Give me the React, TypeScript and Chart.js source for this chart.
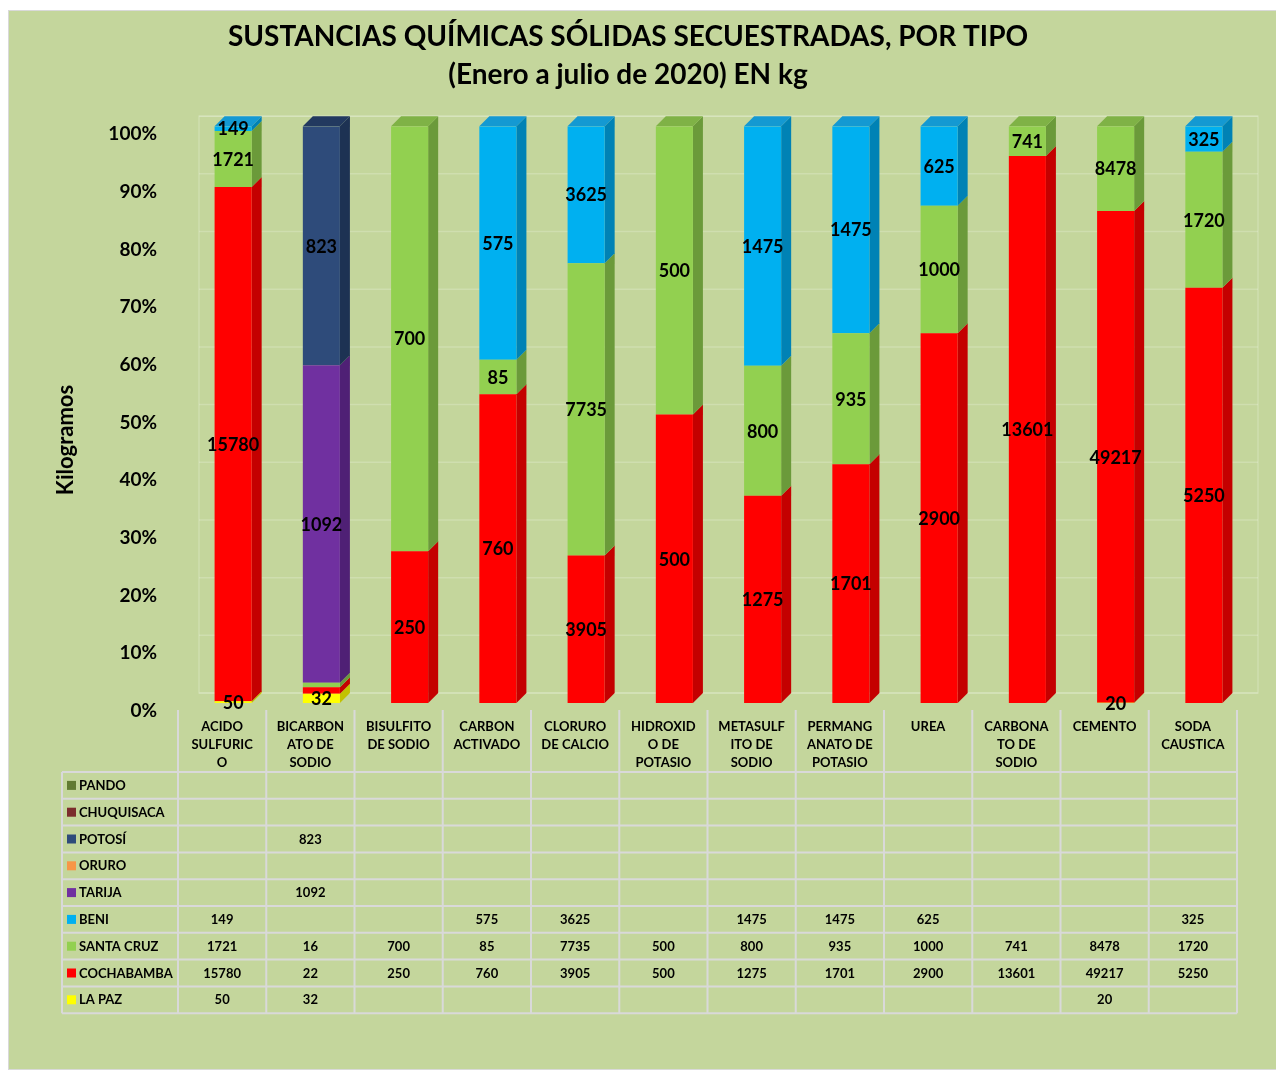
import React, { useEffect, useRef } from "react";
import { Chart, registerables } from "chart.js";

Chart.register(...registerables);

// ---------- DATA ----------
const categoryLines: string[][] = [
  ["ACIDO", "SULFURIC", "O"],
  ["BICARBON", "ATO DE", "SODIO"],
  ["BISULFITO", "DE SODIO"],
  ["CARBON", "ACTIVADO"],
  ["CLORURO", "DE CALCIO"],
  ["HIDROXID", "O DE", "POTASIO"],
  ["METASULF", "ITO DE", "SODIO"],
  ["PERMANG", "ANATO DE", "POTASIO"],
  ["UREA"],
  ["CARBONA", "TO DE", "SODIO"],
  ["CEMENTO"],
  ["SODA", "CAUSTICA"],
];

const laPaz = [50, 32, null, null, null, null, null, null, null, null, 20, null];
const cochabamba = [15780, 22, 250, 760, 3905, 500, 1275, 1701, 2900, 13601, 49217, 5250];
const santaCruz = [1721, 16, 700, 85, 7735, 500, 800, 935, 1000, 741, 8478, 1720];
const beni = [149, null, null, 575, 3625, null, 1475, 1475, 625, null, null, 325];
const tarija = [null, 1092, null, null, null, null, null, null, null, null, null, null];
const oruro = [null, null, null, null, null, null, null, null, null, null, null, null];
const potosi = [null, 823, null, null, null, null, null, null, null, null, null, null];
const chuquisaca = [null, null, null, null, null, null, null, null, null, null, null, null];
const pando = [null, null, null, null, null, null, null, null, null, null, null, null];

const seriesNames = ["LA PAZ", "COCHABAMBA", "SANTA CRUZ", "BENI", "TARIJA", "ORURO", "POTOSÍ", "CHUQUISACA", "PANDO"];
const seriesValues: (number | null)[][] = [laPaz, cochabamba, santaCruz, beni, tarija, oruro, potosi, chuquisaca, pando];

const yTicks = [0, 10, 20, 30, 40, 50, 60, 70, 80, 90, 100];

const titleLines = ["SUSTANCIAS QUÍMICAS SÓLIDAS SECUESTRADAS, POR TIPO", "(Enero a julio de 2020) EN kg"];
const yAxisTitle = "Kilogramos";

// ---------- STYLES ----------
const frontColors = ["#ffff00", "#ff0000", "#92d050", "#00b0f0", "#7030a0", "#f79646", "#2e4b7a", "#7b2c2c", "#617a33"];
const sideColors = ["#c2c200", "#c40000", "#6b9a3a", "#0082b5", "#4f2075", "#c0702f", "#1d3253", "#58201f", "#465924"];
const topColors = ["#dede00", "#e00000", "#7fb246", "#1499d2", "#5e278a", "#d9823a", "#22395f", "#682626", "#52692b"];

const FONT = "Lato, 'Noto Sans', sans-serif";
const BG = "#c4d69c";
const DEPTH = 10;
const SHIFT = 11;

const W = 1268;
const H = 1060;

const totals = categoryLines.map((_, j) =>
  seriesValues.reduce((s, arr) => s + (arr[j] ?? 0), 0)
);

const threeDPlugin = {
  id: "threeD",
  beforeDraw(chart: any) {
    const { ctx } = chart;
    ctx.save();
    ctx.fillStyle = BG;
    ctx.fillRect(0, 0, chart.width, chart.height);
    ctx.strokeStyle = "#d9d9d9";
    ctx.lineWidth = 1;
    ctx.strokeRect(0.5, 0.5, chart.width + 10, chart.height - 1);
    ctx.restore();
  },
  beforeDatasetsDraw(chart: any) {
    const { ctx, chartArea: a, scales } = chart;
    const y = scales.y;
    ctx.save();
    // back wall
    ctx.strokeStyle = "rgba(255,255,255,0.2)";
    ctx.lineWidth = 1.5;
    yTicks.forEach((t) => {
      const py = y.getPixelForValue(t) - DEPTH;
      ctx.beginPath();
      ctx.moveTo(a.left + DEPTH, py);
      ctx.lineTo(a.right + DEPTH, py);
      ctx.stroke();
    });
    ctx.strokeStyle = "rgba(255,255,255,0.2)";
    ctx.strokeRect(a.left + DEPTH, a.top - DEPTH, a.right - a.left, a.bottom - a.top);
    // sides and tops
    categoryLines.forEach((_, j) => {
      let top: any = null;
      seriesValues.forEach((vals, i) => {
        if (vals[j] == null) return;
        const el = chart.getDatasetMeta(i).data[j];
        if (!el) return;
        const p = el.getProps(["x", "y", "base", "width"], true);
        const r = p.x + p.width / 2;
        ctx.fillStyle = sideColors[i];
        ctx.beginPath();
        ctx.moveTo(r, p.base);
        ctx.lineTo(r, p.y);
        ctx.lineTo(r + DEPTH, p.y - DEPTH);
        ctx.lineTo(r + DEPTH, p.base - DEPTH);
        ctx.closePath();
        ctx.fill();
        top = { ...p, i };
      });
      if (top) {
        const l = top.x - top.width / 2;
        const r = top.x + top.width / 2;
        ctx.fillStyle = topColors[top.i];
        ctx.beginPath();
        ctx.moveTo(l, top.y);
        ctx.lineTo(l + DEPTH, top.y - DEPTH);
        ctx.lineTo(r + DEPTH, top.y - DEPTH);
        ctx.lineTo(r, top.y);
        ctx.closePath();
        ctx.fill();
      }
    });
    ctx.restore();
  },
  afterDatasetsDraw(chart: any) {
    const { ctx } = chart;
    ctx.save();
    ctx.font = `bold 18px ${FONT}`;
    ctx.fillStyle = "#000";
    ctx.textAlign = "center";
    ctx.textBaseline = "middle";
    categoryLines.forEach((_, j) => {
      let lastY: number | null = null;
      seriesValues.forEach((vals, i) => {
        const v = vals[j];
        if (v == null) return;
        const el = chart.getDatasetMeta(i).data[j];
        if (!el) return;
        const p = el.getProps(["x", "y", "base"], true);
        const cy = (p.y + p.base) / 2;
        if (lastY !== null && Math.abs(lastY - cy) < 16) return;
        ctx.fillText(String(v), p.x, cy + 1);
        lastY = cy;
      });
    });
    ctx.restore();
  },
  afterDraw(chart: any) {
    const { ctx, chartArea: a, scales } = chart;
    const xs = scales.x;
    const colW = xs.getPixelForValue(1) - xs.getPixelForValue(0);
    const n = categoryLines.length;
    const tableLeft = xs.getPixelForValue(0) - colW / 2 - SHIFT;
    const tableRight = tableLeft + colW * n;
    const legendLeft = 54;
    const headTop = a.bottom + 7;
    const headBottom = headTop + 62;
    const rowH = 26.8;
    const rows = seriesNames.length;
    const tableBottom = headBottom + rowH * rows;

    ctx.save();
    // grid
    ctx.strokeStyle = "#d9d9d9";
    ctx.lineWidth = 2;
    for (let k = 0; k <= n; k++) {
      const x = tableLeft + colW * k;
      ctx.beginPath();
      ctx.moveTo(x, headTop);
      ctx.lineTo(x, tableBottom);
      ctx.stroke();
    }
    ctx.beginPath();
    ctx.moveTo(legendLeft, headBottom);
    ctx.lineTo(legendLeft, tableBottom);
    ctx.stroke();
    for (let r = 0; r <= rows; r++) {
      const yy = headBottom + rowH * r;
      ctx.beginPath();
      ctx.moveTo(legendLeft, yy);
      ctx.lineTo(tableRight, yy);
      ctx.stroke();
    }

    // category labels
    ctx.fillStyle = "#000";
    ctx.font = `bold 13px ${FONT}`;
    ctx.textAlign = "center";
    ctx.textBaseline = "middle";
    categoryLines.forEach((lines, j) => {
      const cx = tableLeft + colW * (j + 0.5);
      lines.forEach((ln, li) => ctx.fillText(ln, cx, headTop + 17 + li * 18));
    });

    // rows (top row = last series)
    for (let r = 0; r < rows; r++) {
      const i = rows - 1 - r;
      const cy = headBottom + rowH * (r + 0.5);
      ctx.fillStyle = frontColors[i];
      ctx.fillRect(legendLeft + 5, cy - 4.5, 9, 9);
      ctx.fillStyle = "#000";
      ctx.textAlign = "left";
      ctx.fillText(seriesNames[i], legendLeft + 17, cy + 0.5);
      ctx.textAlign = "center";
      seriesValues[i].forEach((v, j) => {
        if (v == null) return;
        ctx.fillText(String(v), tableLeft + colW * (j + 0.5), cy + 0.5);
      });
    }

    // y axis title
    ctx.font = `bold 22px ${FONT}`;
    ctx.translate(58, 430);
    ctx.rotate(-Math.PI / 2);
    ctx.textAlign = "center";
    ctx.textBaseline = "middle";
    ctx.fillText(yAxisTitle, 0, 0);
    ctx.restore();
  },
};

export default function App() {
  const ref = useRef<HTMLCanvasElement | null>(null);
  useEffect(() => {
    if (!ref.current) return;
    const datasets = seriesValues.map((vals, i) => ({
      label: seriesNames[i],
      data: vals.map((v, j) => (v == null ? null : (v / totals[j]) * 100)),
      backgroundColor: frontColors[i],
      borderWidth: 0,
      categoryPercentage: 1,
      barPercentage: 0.42,
    }));
    const chart = new Chart(ref.current, {
      type: "bar",
      data: { labels: categoryLines.map((l) => l.join(" ")), datasets },
      options: {
        responsive: false,
        animation: false,
        devicePixelRatio: 1,
        layout: { padding: { left: 0, right: 28, top: 0, bottom: 367 } },
        plugins: {
          legend: { display: false },
          tooltip: { enabled: false },
          title: {
            display: true,
            text: titleLines,
            color: "#000",
            font: { family: FONT, size: 28, weight: "bold", lineHeight: 1.36 },
            padding: { top: 8, bottom: 32 },
          },
        },
        scales: {
          x: { display: false, stacked: true, offset: true },
          y: {
            stacked: true,
            min: 0,
            max: 100,
            afterFit: (s: any) => {
              s.width = 181;
            },
            ticks: {
              stepSize: 10,
              callback: (v: any) => v + "%",
              color: "#000",
              font: { family: FONT, size: 19, weight: "bold" },
              padding: 32,
              labelOffset: 8,
            },
            grid: { display: false, drawTicks: false },
            border: { display: false },
          },
        },
      },
      plugins: [threeDPlugin],
    } as any);
    return () => chart.destroy();
  }, []);
  return (
    <div style={{ position: "fixed", left: 8, top: 10, width: W, height: H }}>
      <canvas ref={ref} width={W} height={H} style={{ display: "block", width: W, height: H }} />
    </div>
  );
}
